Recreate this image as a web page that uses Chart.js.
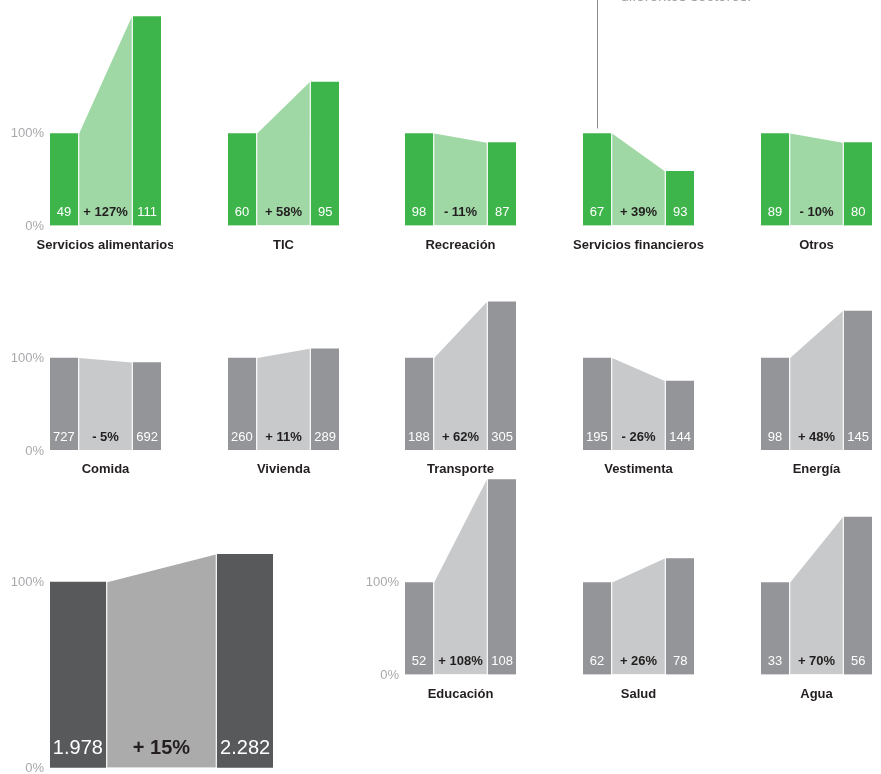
<!DOCTYPE html>
<html>
<head>
<meta charset="utf-8">
<script src="https://cdn.jsdelivr.net/npm/chart.js@4"></script>
<style>
  html, body { margin: 0; padding: 0; background: #fff; width: 881px; height: 774px; overflow: hidden; }
  body { position: relative; }
</style>
</head>
<body>
<script>
// datos
const categories = ['Servicios alimentarios', 'TIC', 'Recreación', 'Servicios financieros', 'Otros',
  'Comida', 'Vivienda', 'Transporte', 'Vestimenta', 'Energía',
  'Educación', 'Salud', 'Agua'];
const startValues = [49, 60, 98, 67, 89, 727, 260, 188, 195, 98, 52, 62, 33];
const endValues = [111, 95, 87, 93, 80, 692, 289, 305, 144, 145, 108, 78, 56];
const changeLabels = ['+ 127%', '+ 58%', '- 11%', '+ 39%', '- 10%', '- 5%', '+ 11%', '+ 62%', '- 26%', '+ 48%', '+ 108%', '+ 26%', '+ 70%'];
// altura de la segunda barra tal como se dibuja (% de la primera)
const endIndex = [227, 156, 90, 59, 90, 95, 110, 161, 75, 151, 212, 126, 171];
const totalStart = 1978;
const totalEnd = 2282;
const totalChange = '+ 15%';
const totalIndex = 115;
const axisTicks = [0, 100];
const noteText = 'diferentes sectores.';

// layout
const FONT = "'Liberation Sans', Arial, Helvetica, sans-serif";
const colX = [50, 228, 405, 583, 761];
const rowBase = [225.5, 450, 674.5];
const slots = [[0,0],[1,0],[2,0],[3,0],[4,0],[0,1],[1,1],[2,1],[3,1],[4,1],[2,2],[3,2],[4,2]];
const tickSlots = [0, 5, 10];
const green = { bar: '#3db54a', band: '#9fd8a4' };
const gray = { bar: '#939598', band: '#c8c9cb' };
const dark = { bar: '#58595b', band: '#ababab' };

const fmt = v => String(v).replace(/\B(?=(\d{3})+(?!\d))/g, '.');

function makePanel(o) {
  const top = Math.floor(o.base - o.H - 4);
  const pt = o.base - o.H - top;
  const rp = o.note ? 140 : 12;
  const w = 50 + o.W + rp;
  const h = Math.ceil(pt + o.H + o.bottom);
  const cv = document.createElement('canvas');
  cv.width = w; cv.height = h;
  cv.style.cssText = `position:absolute;left:${o.left - 50}px;top:${top}px;width:${w}px;height:${h}px;`;
  document.body.appendChild(cv);

  const unit = o.W / 4;
  const gap = 1.4 / unit;
  const ymax = o.H * 100 / o.px100;

  const labels = {
    id: 'labels',
    afterDraw(chart) {
      const c = chart.ctx, xs = chart.scales.x, ys = chart.scales.y;
      const y0 = ys.getPixelForValue(0);
      c.save();
      c.textBaseline = 'middle';
      if (o.ticks) {
        c.fillStyle = '#a7a9ac';
        c.font = `13px ${FONT}`;
        c.textAlign = 'right';
        axisTicks.forEach(t => c.fillText(t + '%', xs.left - 6, ys.getPixelForValue(t) + (t === 0 ? 1 : 0)));
      }
      const vy = y0 - o.valOff;
      c.textAlign = 'center';
      c.fillStyle = '#ffffff';
      c.font = `${o.fs}px ${FONT}`;
      c.fillText(fmt(o.start), xs.getPixelForValue(0.5), vy);
      c.fillText(fmt(o.end), xs.getPixelForValue(3.5), vy);
      c.fillStyle = '#231f20';
      c.font = `bold ${o.fs}px ${FONT}`;
      c.fillText(o.change, xs.getPixelForValue(2), vy);
      if (o.label) {
        c.font = `bold 13px ${FONT}`;
        c.fillText(o.label, (xs.left + xs.right) / 2, y0 + 19.5);
      }
      if (o.note) {
        const lx = Math.round(xs.getPixelForValue(0.5)) + 0.5;
        c.strokeStyle = '#8c8c8c';
        c.lineWidth = 1;
        c.beginPath();
        c.moveTo(lx, ys.getPixelForValue(100) - 5);
        c.lineTo(lx, -top);
        c.stroke();
        c.fillStyle = '#a0a0a0';
        c.font = `15px ${FONT}`;
        c.textAlign = 'left';
        c.textBaseline = 'alphabetic';
        c.fillText(o.note, lx + 23, 1 - top);
      }
      c.restore();
    }
  };

  new Chart(cv, {
    type: 'bar',
    data: {
      datasets: [
        {
          type: 'bar',
          data: [{ x: 0.5, y: 100 }, { x: 3.5, y: o.endH }],
          backgroundColor: o.theme.bar,
          borderWidth: 0,
          barThickness: unit,
        },
        {
          type: 'line',
          data: [{ x: 1 + gap, y: 100 }, { x: 3 - gap, y: o.endH }],
          fill: 'origin',
          backgroundColor: o.theme.band,
          borderWidth: 0,
          pointRadius: 0,
          tension: 0,
        },
      ],
    },
    options: {
      responsive: false,
      animation: false,
      events: [],
      layout: { padding: { left: 50, right: rp, top: pt, bottom: h - pt - o.H } },
      plugins: { legend: { display: false }, tooltip: { enabled: false } },
      scales: {
        x: { type: 'linear', min: 0, max: 4, offset: false, display: false },
        y: { type: 'linear', min: 0, max: ymax, display: false },
      },
    },
    plugins: [labels],
  });
}

categories.forEach((cat, i) => {
  const [col, row] = slots[i];
  makePanel({
    left: colX[col], base: rowBase[row], W: 111, H: 221, px100: 92, bottom: 30,
    theme: i < 5 ? green : gray,
    start: startValues[i], end: endValues[i], change: changeLabels[i], endH: endIndex[i],
    label: cat, ticks: tickSlots.includes(i), fs: 13, valOff: 13,
    note: i === 3 ? noteText : null,
  });
});

makePanel({
  left: 50, base: 767.7, W: 223, H: 225, px100: 185.5, bottom: 6,
  theme: dark,
  start: totalStart, end: totalEnd, change: totalChange, endH: totalIndex,
  label: null, ticks: true, fs: 20, valOff: 19, note: null,
});
</script>
</body>
</html>
